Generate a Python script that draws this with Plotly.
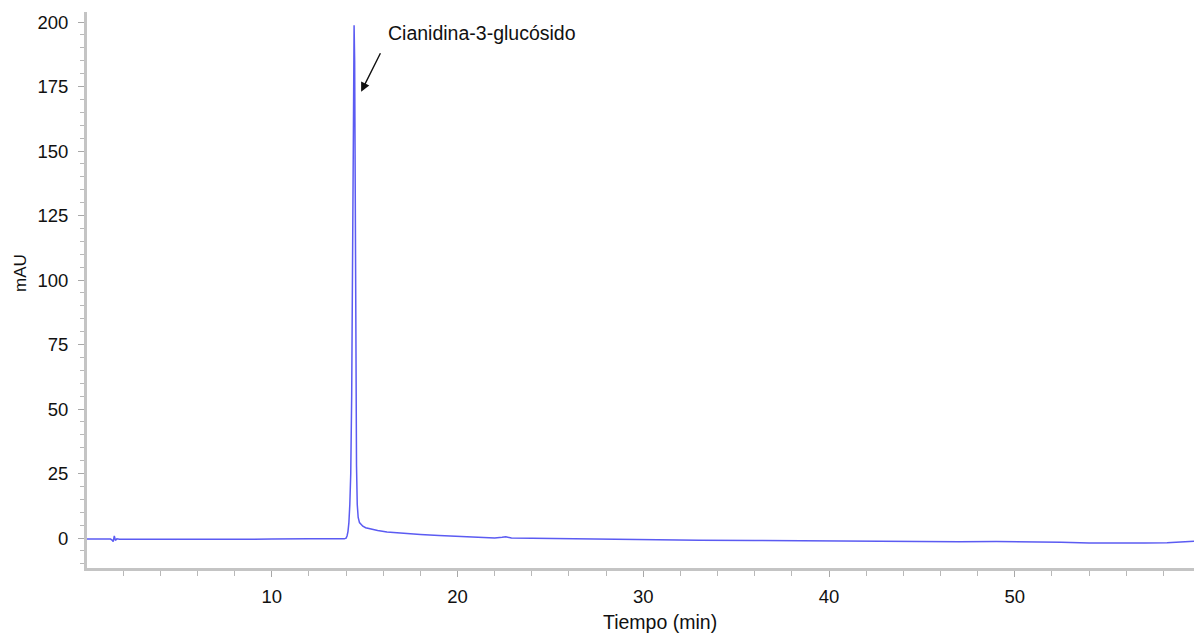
import plotly.graph_objects as go

# Chromatogram trace: retention time (min) and detector response (mAU)
tiempo = [
    0.0, 0.6, 1.2, 1.32, 1.4, 1.46, 1.52, 1.58, 1.66, 1.8, 2.5, 4.0, 6.0, 8.0, 10.0,
    12.0, 13.0, 13.6, 13.9, 14.0, 14.05, 14.1, 14.15, 14.2, 14.25, 14.3, 14.35,
    14.4, 14.43, 14.46, 14.5, 14.53, 14.56, 14.6, 14.65, 14.72, 14.8, 14.9,
    15.05, 15.3, 15.7, 16.2, 17.0, 18.0, 19.0, 20.0, 21.0, 22.0, 22.4, 22.6,
    22.9, 24.0, 26.0, 28.0, 30.0, 33.0, 36.0, 39.0, 42.0, 45.0, 47.0, 49.0,
    51.0, 52.5, 54.0, 55.5, 57.0, 58.2, 59.0, 59.7,
]
mau = [
    -0.4, -0.4, -0.5, -0.4, -0.8, -1.4, 0.8, -0.9, -0.3, -0.5, -0.5, -0.5, -0.6,
    -0.5, -0.4, -0.3, -0.3, -0.4, -0.3, 0.0, 0.8, 2.5, 6.0, 13.0, 25.0, 55.0,
    120.0, 185.0, 198.8, 185.0, 120.0, 60.0, 28.0, 13.0, 8.0, 6.0, 5.2, 4.6,
    4.0, 3.5, 2.9, 2.4, 1.9, 1.4, 1.0, 0.6, 0.3, 0.0, 0.3, 0.5, 0.0, -0.1,
    -0.4, -0.5, -0.6, -0.8, -0.9, -1.1, -1.2, -1.3, -1.4, -1.3, -1.4, -1.6,
    -1.9, -2.0, -1.9, -1.8, -1.6, -1.2,
]

x_ticks = [10, 20, 30, 40, 50]
y_ticks = [0, 25, 50, 75, 100, 125, 150, 175, 200]

pico = "Cianidina-3-glucósido"

fig = go.Figure()
fig.add_trace(go.Scatter(
    x=tiempo, y=mau, mode="lines",
    line=dict(color="#5b5bf2", width=1.5),
    hoverinfo="x+y", showlegend=False,
))

font = "Liberation Sans, Arial, sans-serif"

fig.update_layout(
    width=1194, height=636,
    margin=dict(l=87, r=0, t=12, b=68),
    paper_bgcolor="white", plot_bgcolor="white",
    font=dict(family=font, color="#111111", size=18.5),
    xaxis=dict(
        range=[0.05, 59.65], tickmode="array", tickvals=x_ticks,
        ticktext=[str(v) for v in x_ticks],
        showgrid=False, zeroline=False,
        showline=True, linecolor="#c4c4c4", linewidth=3,
        ticks="outside", ticklen=6, tickcolor="#a8a8a8", tickwidth=1,
        ticklabelstandoff=4,
        minor=dict(dtick=2, tick0=0, ticks="outside", ticklen=5,
                   tickcolor="#b8b8b8", showgrid=False),
    ),
    yaxis=dict(
        range=[-11.6, 203.9], tickmode="array", tickvals=y_ticks,
        ticktext=[str(v) for v in y_ticks],
        showgrid=False, zeroline=False,
        showline=True, linecolor="#c4c4c4", linewidth=3,
        ticks="outside", ticklen=6, tickcolor="#a8a8a8", tickwidth=1,
        ticklabelstandoff=6,
        minor=dict(dtick=5, tick0=0, ticks="outside", ticklen=4,
                   tickcolor="#b8b8b8", showgrid=False),
    ),
    annotations=[
        dict(x=14.81, y=173, xref="x", yref="y", text="",
             showarrow=True, arrowhead=2, arrowsize=1.3, arrowwidth=1.4,
             arrowcolor="#111111", ax=20, ay=-40),
        dict(x=16.16, y=195.7, xref="x", yref="y", text=pico,
             showarrow=False, xanchor="left", yanchor="middle",
             font=dict(size=19.5, color="#111111")),
        dict(x=660, y=22, xref="paper", yref="paper", text="Tiempo (min)",
             showarrow=False, xanchor="center", yanchor="middle",
             font=dict(size=19.5)),
        dict(text="mAU", showarrow=False, textangle=-90,
             xref="paper", yref="paper", xanchor="center", yanchor="middle",
             x=0, y=0.5, font=dict(size=17)),
    ],
)

# Axis titles placed in pixel terms relative to the plot area
plot_w = 1194 - 87
plot_h = 636 - 12 - 68
fig.layout.annotations[2].update(x=(660 - 87) / plot_w, y=-(622 - 568) / plot_h)
fig.layout.annotations[3].update(x=-(87 - 20) / plot_w, y=(568 - 273) / plot_h)

fig.write_html("out.html")
